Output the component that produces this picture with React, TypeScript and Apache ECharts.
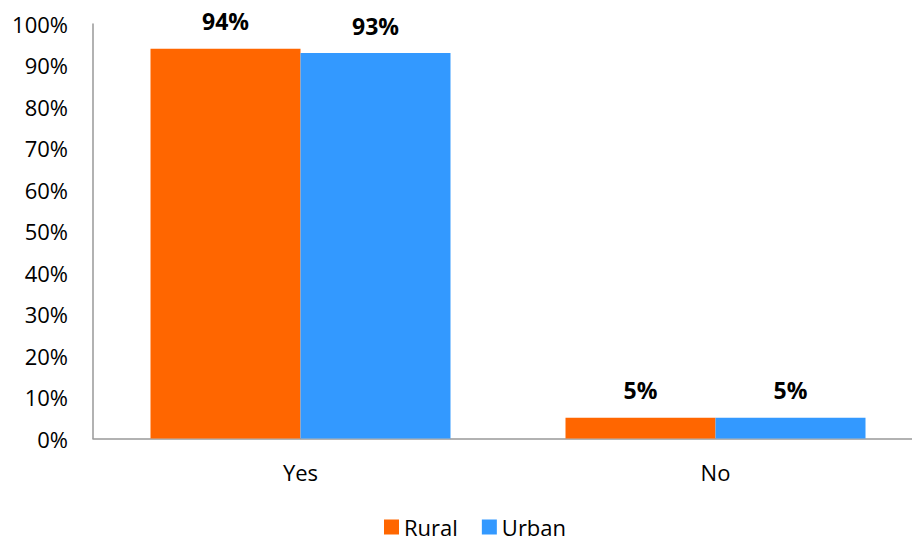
import React, { useEffect, useRef } from "react";
import * as echarts from "echarts";

const categories = ["Yes", "No"];
const rural = [94, 5];
const urban = [93, 5];
const seriesNames = ["Rural", "Urban"];

export default function App() {
  const ref = useRef<HTMLDivElement>(null);
  useEffect(() => {
    const chart = echarts.init(ref.current!, null, { renderer: "svg" });
    const font = "'Open Sans', 'Noto Sans', sans-serif";
    const label = {
      show: true,
      position: "top",
      distance: 16,
      formatter: "{c}%",
      fontFamily: font,
      fontWeight: "bold",
      fontSize: 23,
      color: "#000",
    };
    chart.setOption({
      animation: false,
      textStyle: { fontFamily: font },
      grid: { left: 93, top: 24, width: 830, height: 414.5, containLabel: false },
      legend: {
        top: 516,
        left: 384,
        padding: 0,
        itemWidth: 15,
        itemHeight: 15,
        itemGap: 24,
        icon: "rect",
        textStyle: { fontFamily: font, fontSize: 22, lineHeight: 22, color: "#000" },
        data: seriesNames,
      },
      xAxis: {
        type: "category",
        data: categories,
        axisLine: { lineStyle: { color: "#999", width: 1.5 } },
        axisTick: { show: false },
        axisLabel: { fontFamily: font, fontSize: 22, color: "#000", margin: 22 },
      },
      yAxis: {
        type: "value",
        min: 0,
        max: 100,
        interval: 10,
        axisLine: { show: true, lineStyle: { color: "#999", width: 1.5 } },
        axisTick: { show: false },
        splitLine: { show: false },
        axisLabel: { fontFamily: font, fontSize: 22, color: "#000", margin: 25, formatter: "{value}%" },
      },
      series: [
        { name: seriesNames[0], type: "bar", data: rural, barWidth: 150, barGap: "0%", itemStyle: { color: "#FF6600" }, label },
        { name: seriesNames[1], type: "bar", data: urban, barWidth: 150, barGap: "0%", itemStyle: { color: "#3399FF" }, label },
      ],
    });
    return () => chart.dispose();
  }, []);
  return (
    <div style={{ width: 912, height: 541, position: "absolute", left: 0, top: 0, overflow: "hidden" }}>
      <div ref={ref} style={{ width: 940, height: 541 }} />
    </div>
  );
}
